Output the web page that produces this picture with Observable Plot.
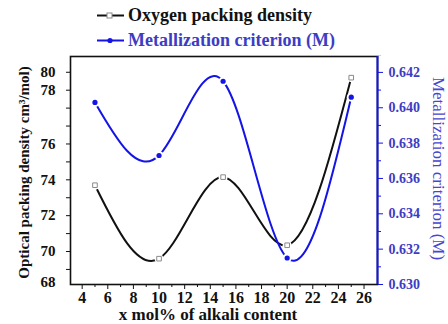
<!DOCTYPE html>
<html>
<head>
<meta charset="utf-8">
<script src="https://cdn.jsdelivr.net/npm/d3@7"></script>
<script src="https://cdn.jsdelivr.net/npm/@observablehq/plot@0.6"></script>
<style>
  html, body { margin: 0; padding: 0; background: #fff; }
  #wrap { width: 448px; height: 324px; font-family: "Liberation Serif", "Times New Roman", serif; }
  .legend { height: 55px; position: relative; }
  .legend .row { position: absolute; left: 96px; display: flex; align-items: center; font-weight: bold; font-size: 18px; line-height: 20px; white-space: nowrap; }
  .legend svg { margin-right: 3px; }
  #chart svg { display: block; }
</style>
</head>
<body>
<div id="wrap">
  <div class="legend" id="legend"></div>
  <div id="chart"></div>
</div>
<script>
// alkali content (x mol%)
const alkali = [5, 10, 15, 20, 25];
// optical (oxygen) packing density, cm^3/mol
const packingDensity = [73.7, 69.6, 74.15, 70.35, 79.7];
// metallization criterion M
const metallization = [0.6403, 0.6373, 0.6415, 0.6315, 0.6406];

// axis tick labels
const xTickLabels = [4, 6, 8, 10, 12, 14, 16, 18, 20, 22, 24, 26];
const leftTickValues = [80, 79, 76, 74, 72, 70, 68.3];
const leftTickLabels = ["80", "78", "76", "74", "72", "70", "68"];
const rightTickLabels = [0.630, 0.632, 0.634, 0.636, 0.638, 0.640, 0.642];

const series = [
  {name: "Oxygen packing density", color: "#111111", text: "#111111"},
  {name: "Metallization criterion (M)", color: "#1414e6", text: "#3c3cc4"}
];

// both y axes share the plot height; M is mapped onto the left axis units
const yLeft = [68.16, 80.88];
const yRight = [0.6300, 0.6429];
const toLeft = m => yLeft[0] + (m - yRight[0]) / (yRight[1] - yRight[0]) * (yLeft[1] - yLeft[0]);

const rows = alkali.flatMap((x, i) => [
  {x, y: packingDensity[i], s: series[0].name},
  {x, y: toLeft(metallization[i]), s: series[1].name}
]);
const oxy = rows.filter(d => d.s === series[0].name);
const met = rows.filter(d => d.s === series[1].name);

const leftLabel = new Map(leftTickValues.map((v, i) => [v, leftTickLabels[i]]));
const rightMajor = rightTickLabels.map(toLeft);
const rightLabel = new Map(rightMajor.map((v, i) => [v, rightTickLabels[i].toFixed(3)]));
const rightMinor = d3.range(0.631, 0.643, 0.002).map(toLeft);

const font = {fontFamily: "Liberation Serif, serif", fontWeight: "bold", fontSize: 14};

const chart = Plot.plot({
  width: 448,
  height: 269,
  marginTop: 1,
  marginBottom: 40,
  marginLeft: 70,
  marginRight: 71,
  style: {fontFamily: "Liberation Serif, serif", background: "#fff"},
  x: {domain: [3.09, 27.05], label: null},
  y: {domain: yLeft, label: null},
  marks: [
    // curves
    Plot.line(oxy, {x: "x", y: "y", curve: "natural", stroke: series[0].color, strokeWidth: 2}),
    Plot.line(met, {x: "x", y: "y", curve: "natural", stroke: series[1].color, strokeWidth: 2}),
    // markers with a small white gap around them
    Plot.dot(oxy, {x: "x", y: "y", r: 4.5, fill: "#fff", stroke: null}),
    Plot.dot(met, {x: "x", y: "y", r: 4.5, fill: "#fff", stroke: null}),
    Plot.dot(oxy, {x: "x", y: "y", symbol: "square", r: 2.6, fill: "#fff", stroke: "#8a8a8a", strokeWidth: 1}),
    Plot.dot(met, {x: "x", y: "y", r: 2.6, fill: series[1].color, stroke: null}),
    // frame: black on three sides, blue right axis line
    Plot.frame({stroke: "#111", strokeWidth: 1.6}),
    Plot.ruleX([27.05], {stroke: "#1414e6", strokeWidth: 2}),
    // bottom axis
    Plot.axisX({ticks: xTickLabels, tickSize: 5, tickPadding: 2, ...font, fontSize: 16, stroke: "#111", fill: "#111", label: null}),
    Plot.axisX({ticks: d3.range(5, 27, 2), tickSize: 3, tickFormat: () => "", stroke: "#111", label: null}),
    Plot.text(["x mol% of alkali content"], {frameAnchor: "bottom", textAnchor: "middle", lineAnchor: "middle", dx: -16, dy: 30, ...font, fontSize: 17, fill: "#111"}),
    // left axis
    Plot.axisY({ticks: d3.range(69, 81), tickSize: 4, tickFormat: () => "", stroke: "#111", label: null}),
    Plot.axisY({ticks: leftTickValues, tickSize: 0, tickPadding: 15, tickFormat: d => leftLabel.get(d), ...font, fontSize: 15, fill: "#111", label: null}),
    Plot.text(["Optical packing density cm\u00b3/mol)"], {frameAnchor: "left", textAnchor: "middle", lineAnchor: "middle", rotate: -90, dx: -46, dy: 2, ...font, fontSize: 15, fill: "#111"}),
    // right axis
    Plot.axisY({anchor: "right", ticks: rightMajor, tickSize: 5, tickPadding: 6, tickFormat: d => rightLabel.get(d), ...font, fontSize: 14, stroke: "#1414e6", fill: "#3c3cc4", label: null}),
    Plot.axisY({anchor: "right", ticks: rightMinor, tickSize: 3, tickFormat: () => "", stroke: "#1414e6", label: null}),
    Plot.text(["Metallization criterion (M)"], {frameAnchor: "right", textAnchor: "middle", lineAnchor: "middle", rotate: 90, dx: 61, dy: -2, fontFamily: "Liberation Serif, serif", fontSize: 17, fill: "#4646d2"})
  ]
});
document.getElementById("chart").append(chart);

// legend
const legend = document.getElementById("legend");
series.forEach((s, i) => {
  const row = document.createElement("div");
  row.className = "row";
  row.style.top = (i === 0 ? 5 : 30) + "px";
  row.style.color = s.text;
  const marker = i === 0
    ? `<rect x="11" y="4" width="5" height="5" fill="#fff" stroke="#8a8a8a"/>`
    : `<circle cx="14" cy="6.5" r="2.6" fill="${s.color}"/>`;
  row.innerHTML = `<svg width="29" height="13"><line x1="1" x2="28" y1="6.5" y2="6.5" stroke="${s.color}" stroke-width="2"/>${marker}</svg><span>${s.name}</span>`;
  legend.append(row);
});
</script>
</body>
</html>
